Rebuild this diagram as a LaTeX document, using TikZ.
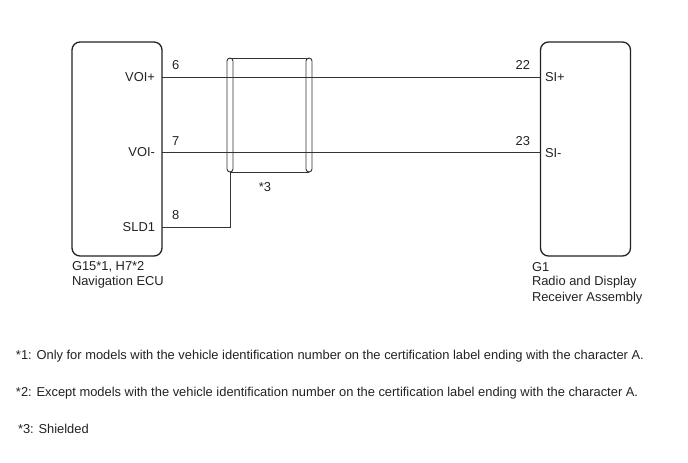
\documentclass[tikz,border=0pt]{standalone}
\usepackage{fontspec}
\setmainfont{Liberation Sans}
\definecolor{ink}{HTML}{222222}
\definecolor{wire}{HTML}{333333}
\begin{document}
\begin{tikzpicture}[x=1pt,y=-1pt,
  every node/.style={inner sep=0pt,outer sep=0pt,text=ink,font=\fontsize{12.9}{15}\selectfont},
  ecubox/.style={draw=ink,line width=1.3pt,rounded corners=8pt,minimum width=90pt,minimum height=214pt},
  shieldend/.style={draw=wire,line width=0.9pt,rounded corners=3pt,minimum width=6pt,minimum height=114pt},
  wireline/.style={draw=wire,line width=0.8pt},
  lbl/.style={anchor=west},
  rlbl/.style={anchor=east}]
\useasboundingbox (0,0) rectangle (688,463);
% boxes
\node[ecubox] (L) at (117,149) {};
\node[ecubox] (R) at (585.5,149) {};
% pin coordinates
\coordinate (p6) at (L.east |- 0,77);
\coordinate (p7) at (L.east |- 0,152);
\coordinate (p8) at (L.east |- 0,227);
\coordinate (p22) at (R.west |- 0,77);
\coordinate (p23) at (R.west |- 0,152);
% shield
\node[shieldend] (S1) at (230,115) {};
\node[shieldend] (S2) at (309,115) {};
\draw[wireline] (S1.north) -- (S2.north);
\draw[wireline] (S1.south) -- (S2.south);
% wires
\draw[wireline] (p6) -- (p22);
\draw[wireline] (p7) -- (p23);
\draw[wireline] (p8) -| (S1.south);
% pin names
\node[rlbl] (n1) at (155,77) {VOI+};
\node[rlbl] (n2) at (155,152) {VOI-};
\node[rlbl] (n3) at (155,227) {SLD1};
\node[lbl] (n4) at (545,77) {SI+};
\node[lbl] (n5) at (545,153) {SI-};
% pin numbers
\node[lbl] (t6) at (172,65) {6};
\node[lbl] (t7) at (172,141) {7};
\node[lbl] (t8) at (172,215) {8};
\node[rlbl] (t22) at (530,65) {22};
\node[rlbl] (t23) at (530,141) {23};
\node (t3) at (265,187) {*3};
% box labels
\node[lbl] (lc1) at (72,267) {G15*1, H7*2};
\node[lbl] (lc2) at (72,282) {Navigation ECU};
\node[lbl] (rc1) at (532,267) {G1};
\node[lbl] (rc2) at (532,282) {Radio and Display};
\node[lbl] (rc3) at (532,298) {Receiver Assembly};
% footnotes
\node[lbl] (f1) at (16,356) {*1: Only for models with the vehicle identification number on the certification label ending with the character A.};
\node[lbl] (f2) at (16,393) {*2: Except models with the vehicle identification number on the certification label ending with the character A.};
\node[lbl] (f3) at (18,429) {*3: Shielded};
\end{tikzpicture}
\end{document}
